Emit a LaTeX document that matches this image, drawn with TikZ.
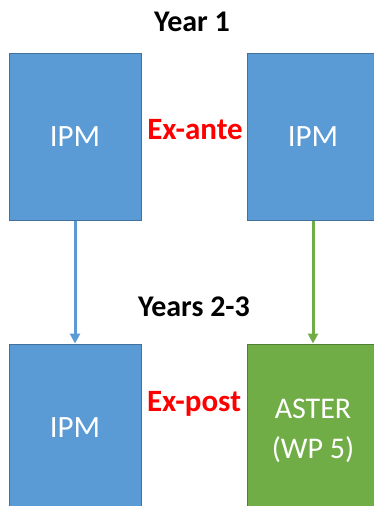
\documentclass[tikz,border=0pt]{standalone}
\usepackage{fontspec}
\setmainfont{Carlito}
\usetikzlibrary{arrows.meta}
\definecolor{boxblue}{HTML}{5B9BD5}
\definecolor{edgeblue}{HTML}{41719C}
\definecolor{boxgreen}{HTML}{70AD47}
\definecolor{edgegreen}{HTML}{507E32}
\tikzset{
  box/.style={draw=edgeblue, line width=1pt, fill=boxblue, minimum width=132pt, minimum height=167pt, inner sep=0pt, text=white, font=\fontsize{31}{40}\selectfont, align=center},
  gbox/.style={box, draw=edgegreen, fill=boxgreen, minimum height=173pt, font=\fontsize{30}{40}\selectfont},
  head/.style={font=\bfseries\fontsize{30}{34}\selectfont, text=black},
  lab/.style={font=\bfseries\fontsize{31}{34}\selectfont, text=red},
  conn/.style={line width=3pt, -{Triangle[width=10pt,length=10pt]}}
}
\begin{document}
\begin{tikzpicture}[x=1pt,y=-1pt]
\useasboundingbox (0,0) rectangle (374,506);
\clip (0,0) rectangle (374,506);
\fill[white] (0,0) rectangle (374,506);
\node[box] (a) at (75,136.5) {IPM};
\node[box] (b) at (313,136.5) {IPM};
\node[box] (c) at (75,427.5) {IPM};
\node[gbox] (d) at (313,430.5) {ASTER\\(WP 5)};
\node[head] (y1) at (192,22) {Year 1};
\node[head] (y2) at (194,307) {Years 2-3};
\node[lab] (ea) at (195,130) {Ex-ante};
\node[lab] (ep) at (194,404) {Ex-post};
\draw[conn, boxblue] (a.south) -- (c.north);
\draw[conn, boxgreen] (b.south) -- (d.north);
\end{tikzpicture}
\end{document}
